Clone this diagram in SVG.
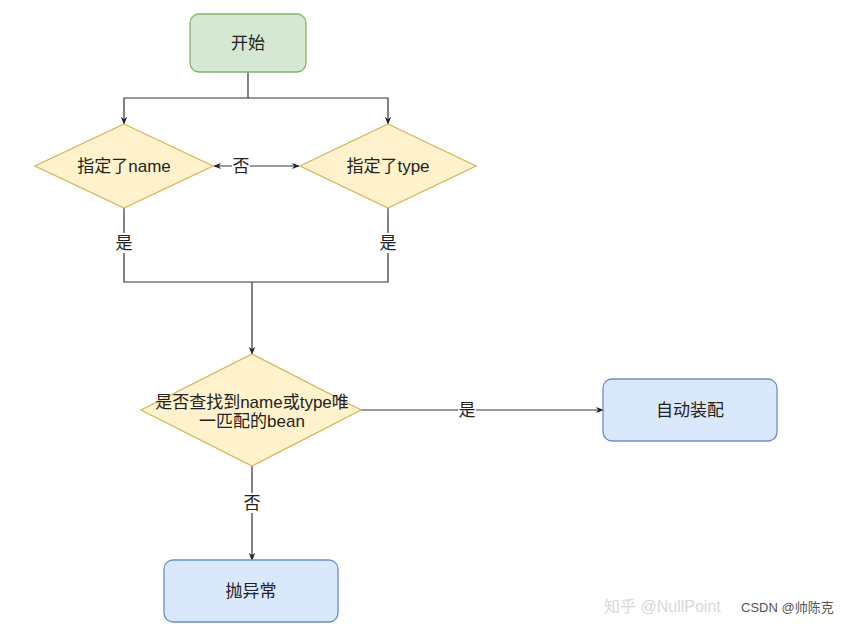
<svg xmlns="http://www.w3.org/2000/svg" width="856" height="628" viewBox="0 0 856 628">
<defs>
<marker id="arr" viewBox="0 0 10 10" refX="9" refY="5" markerWidth="8" markerHeight="8" orient="auto-start-reverse" markerUnits="userSpaceOnUse">
<path d="M0,1 L10,5 L0,9 L3,5 Z" fill="#222"/>
</marker>
</defs>
<style>
text{font-family:"Liberation Sans","Noto Sans CJK SC",sans-serif;font-size:17px;fill:#222;text-anchor:middle;dominant-baseline:central}
.green{fill:#d5e8d4;stroke:#82b366;stroke-width:1.3}
.yellow{fill:#fff2cc;stroke:#d6b656;stroke-width:1.3}
.blue{fill:#dae8fc;stroke:#6c8ebf;stroke-width:1.3}
.edge{fill:none;stroke:#333;stroke-width:1.2}
.lbl{fill:#fff}
</style>
<rect width="856" height="628" fill="#fff"/>
<g id="edges">
<path class="edge" d="M248,72 V98 H124 V124" marker-end="url(#arr)"/>
<path class="edge" d="M248,98 H388 V124" marker-end="url(#arr)"/>
<path class="edge" d="M214,166 H299" marker-start="url(#arr)" marker-end="url(#arr)"/>
<rect class="lbl" x="232" y="156" width="18" height="20"/>
<text x="241" y="166">否</text>
<path class="edge" d="M124,208 V282 H388 V208"/>
<rect class="lbl" x="115" y="233" width="18" height="20"/>
<text x="124" y="243">是</text>
<rect class="lbl" x="379" y="233" width="18" height="20"/>
<text x="388" y="243">是</text>
<path class="edge" d="M252,282 V354" marker-end="url(#arr)"/>
<path class="edge" d="M361,410 H603" marker-end="url(#arr)"/>
<rect class="lbl" x="458" y="400" width="18" height="20"/>
<text x="467" y="410">是</text>
<path class="edge" d="M252,466 V560" marker-end="url(#arr)"/>
<rect class="lbl" x="243" y="493" width="18" height="20"/>
<text x="252" y="503">否</text>
</g>
<g id="start">
<rect class="green" x="190" y="14" width="116" height="58" rx="9"/>
<text x="248" y="43">开始</text>
</g>
<g id="name">
<polygon class="yellow" points="124,124 213,166 124,208 35,166"/>
<text x="124" y="166">指定了name</text>
</g>
<g id="type">
<polygon class="yellow" points="388,124 476,166 388,208 300,166"/>
<text x="388" y="166">指定了type</text>
</g>
<g id="find">
<polygon class="yellow" points="252,354 361,410 252,466 141,410"/>
<text x="252" y="402">是否查找到name或type唯</text>
<text x="252" y="421">一匹配的bean</text>
</g>
<g id="auto">
<rect class="blue" x="603" y="379" width="174" height="62" rx="9"/>
<text x="690" y="410">自动装配</text>
</g>
<g id="throw">
<rect class="blue" x="164" y="560" width="174" height="62" rx="9"/>
<text x="251" y="591">抛异常</text>
</g>
<g id="watermark">
<text x="604" y="606" style="font-size:16px;fill:#d8d8d8;text-anchor:start">知乎 @NullPoint</text>
<text x="741" y="607" style="font-size:13px;fill:#555;text-anchor:start">CSDN @帅陈克</text>
</g>
</svg>
